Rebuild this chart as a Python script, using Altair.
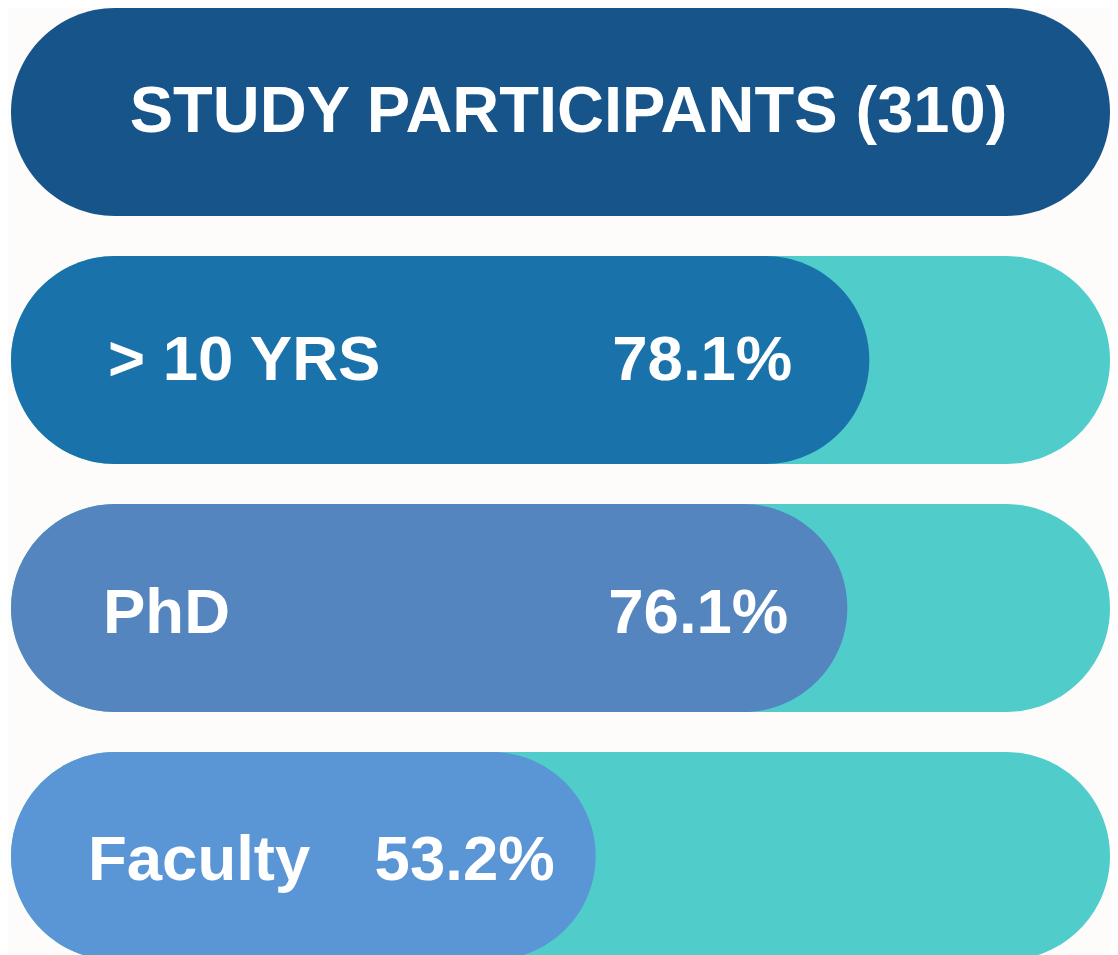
import altair as alt
import pandas as pd

title_text = "STUDY PARTICIPANTS (310)"
labels = ["> 10 YRS", "PhD", "Faculty"]
percents = [78.1, 76.1, 53.2]
total_pct = 100

rows = [title_text] + labels
fill_colors = ["#16548a", "#1a72aa", "#5485be", "#5a95d6"]
track_color = "#50cdcb"

df = pd.DataFrame({
    "row": rows,
    "value": [total_pct] + percents,
    "full": [total_pct] * len(rows),
    "pct_text": [""] + [f"{p:.1f}%" for p in percents],
})

band = 208
y_enc = alt.Y("row:N", sort=rows, axis=None,
              scale=alt.Scale(paddingInner=0.1613, paddingOuter=0))
x_scale = alt.Scale(domain=[0, 100], nice=False, zero=True)

track = alt.Chart(df).transform_filter(alt.datum.row != title_text).transform_calculate(
    zero="0"
).mark_bar(cornerRadius=band / 2, color=track_color).encode(
    x=alt.X("zero:Q", scale=x_scale, axis=None),
    x2="full:Q",
    y=y_enc,
)

fill = alt.Chart(df).transform_calculate(zero="0").mark_bar(cornerRadius=band / 2).encode(
    x=alt.X("zero:Q", scale=x_scale, axis=None),
    x2="value:Q",
    y=y_enc,
    color=alt.Color("row:N", scale=alt.Scale(domain=rows, range=fill_colors), legend=None),
)

font = "Liberation Sans"
title_layer = alt.Chart(df).transform_filter(alt.datum.row == title_text).transform_calculate(
    mid="50"
).mark_text(
    font=font, fontSize=65, fontWeight="bold", color="white",
    align="center", baseline="alphabetic", dy=20, dx=8
).encode(
    x=alt.X("mid:Q", scale=x_scale, axis=None),
    y=y_enc,
    text="row:N",
)

label_dx = [97, 92, 77]
pct_dx = [-77, -59, -41]
text_dy = [20, 25, 24]
text_layers = []
for lab, ldx, pdx, tdy in zip(labels, label_dx, pct_dx, text_dy):
    base = alt.Chart(df).transform_filter(alt.datum.row == lab).transform_calculate(zero="0")
    text_layers.append(base.mark_text(
        font=font, fontSize=63.5, fontWeight="bold", color="white",
        align="left", baseline="alphabetic", dy=tdy, dx=ldx
    ).encode(x=alt.X("zero:Q", scale=x_scale, axis=None), y=y_enc, text="row:N"))
    text_layers.append(base.mark_text(
        font=font, fontSize=63.5, fontWeight="bold", color="white",
        align="right", baseline="alphabetic", dy=tdy, dx=pdx
    ).encode(x=alt.X("value:Q", scale=x_scale, axis=None), y=y_enc, text="pct_text:N"))

chart = alt.layer(track, fill, title_layer, *text_layers).properties(
    width=1099,
    height=952,
    background="#fdfcfb",
    autosize=alt.AutoSizeParams(type="none"),
    padding={"left": 3, "top": 0, "right": 0, "bottom": 0},
).configure_view(stroke=None)

chart.save("out.html", embed_options={"renderer": "svg", "actions": False})
